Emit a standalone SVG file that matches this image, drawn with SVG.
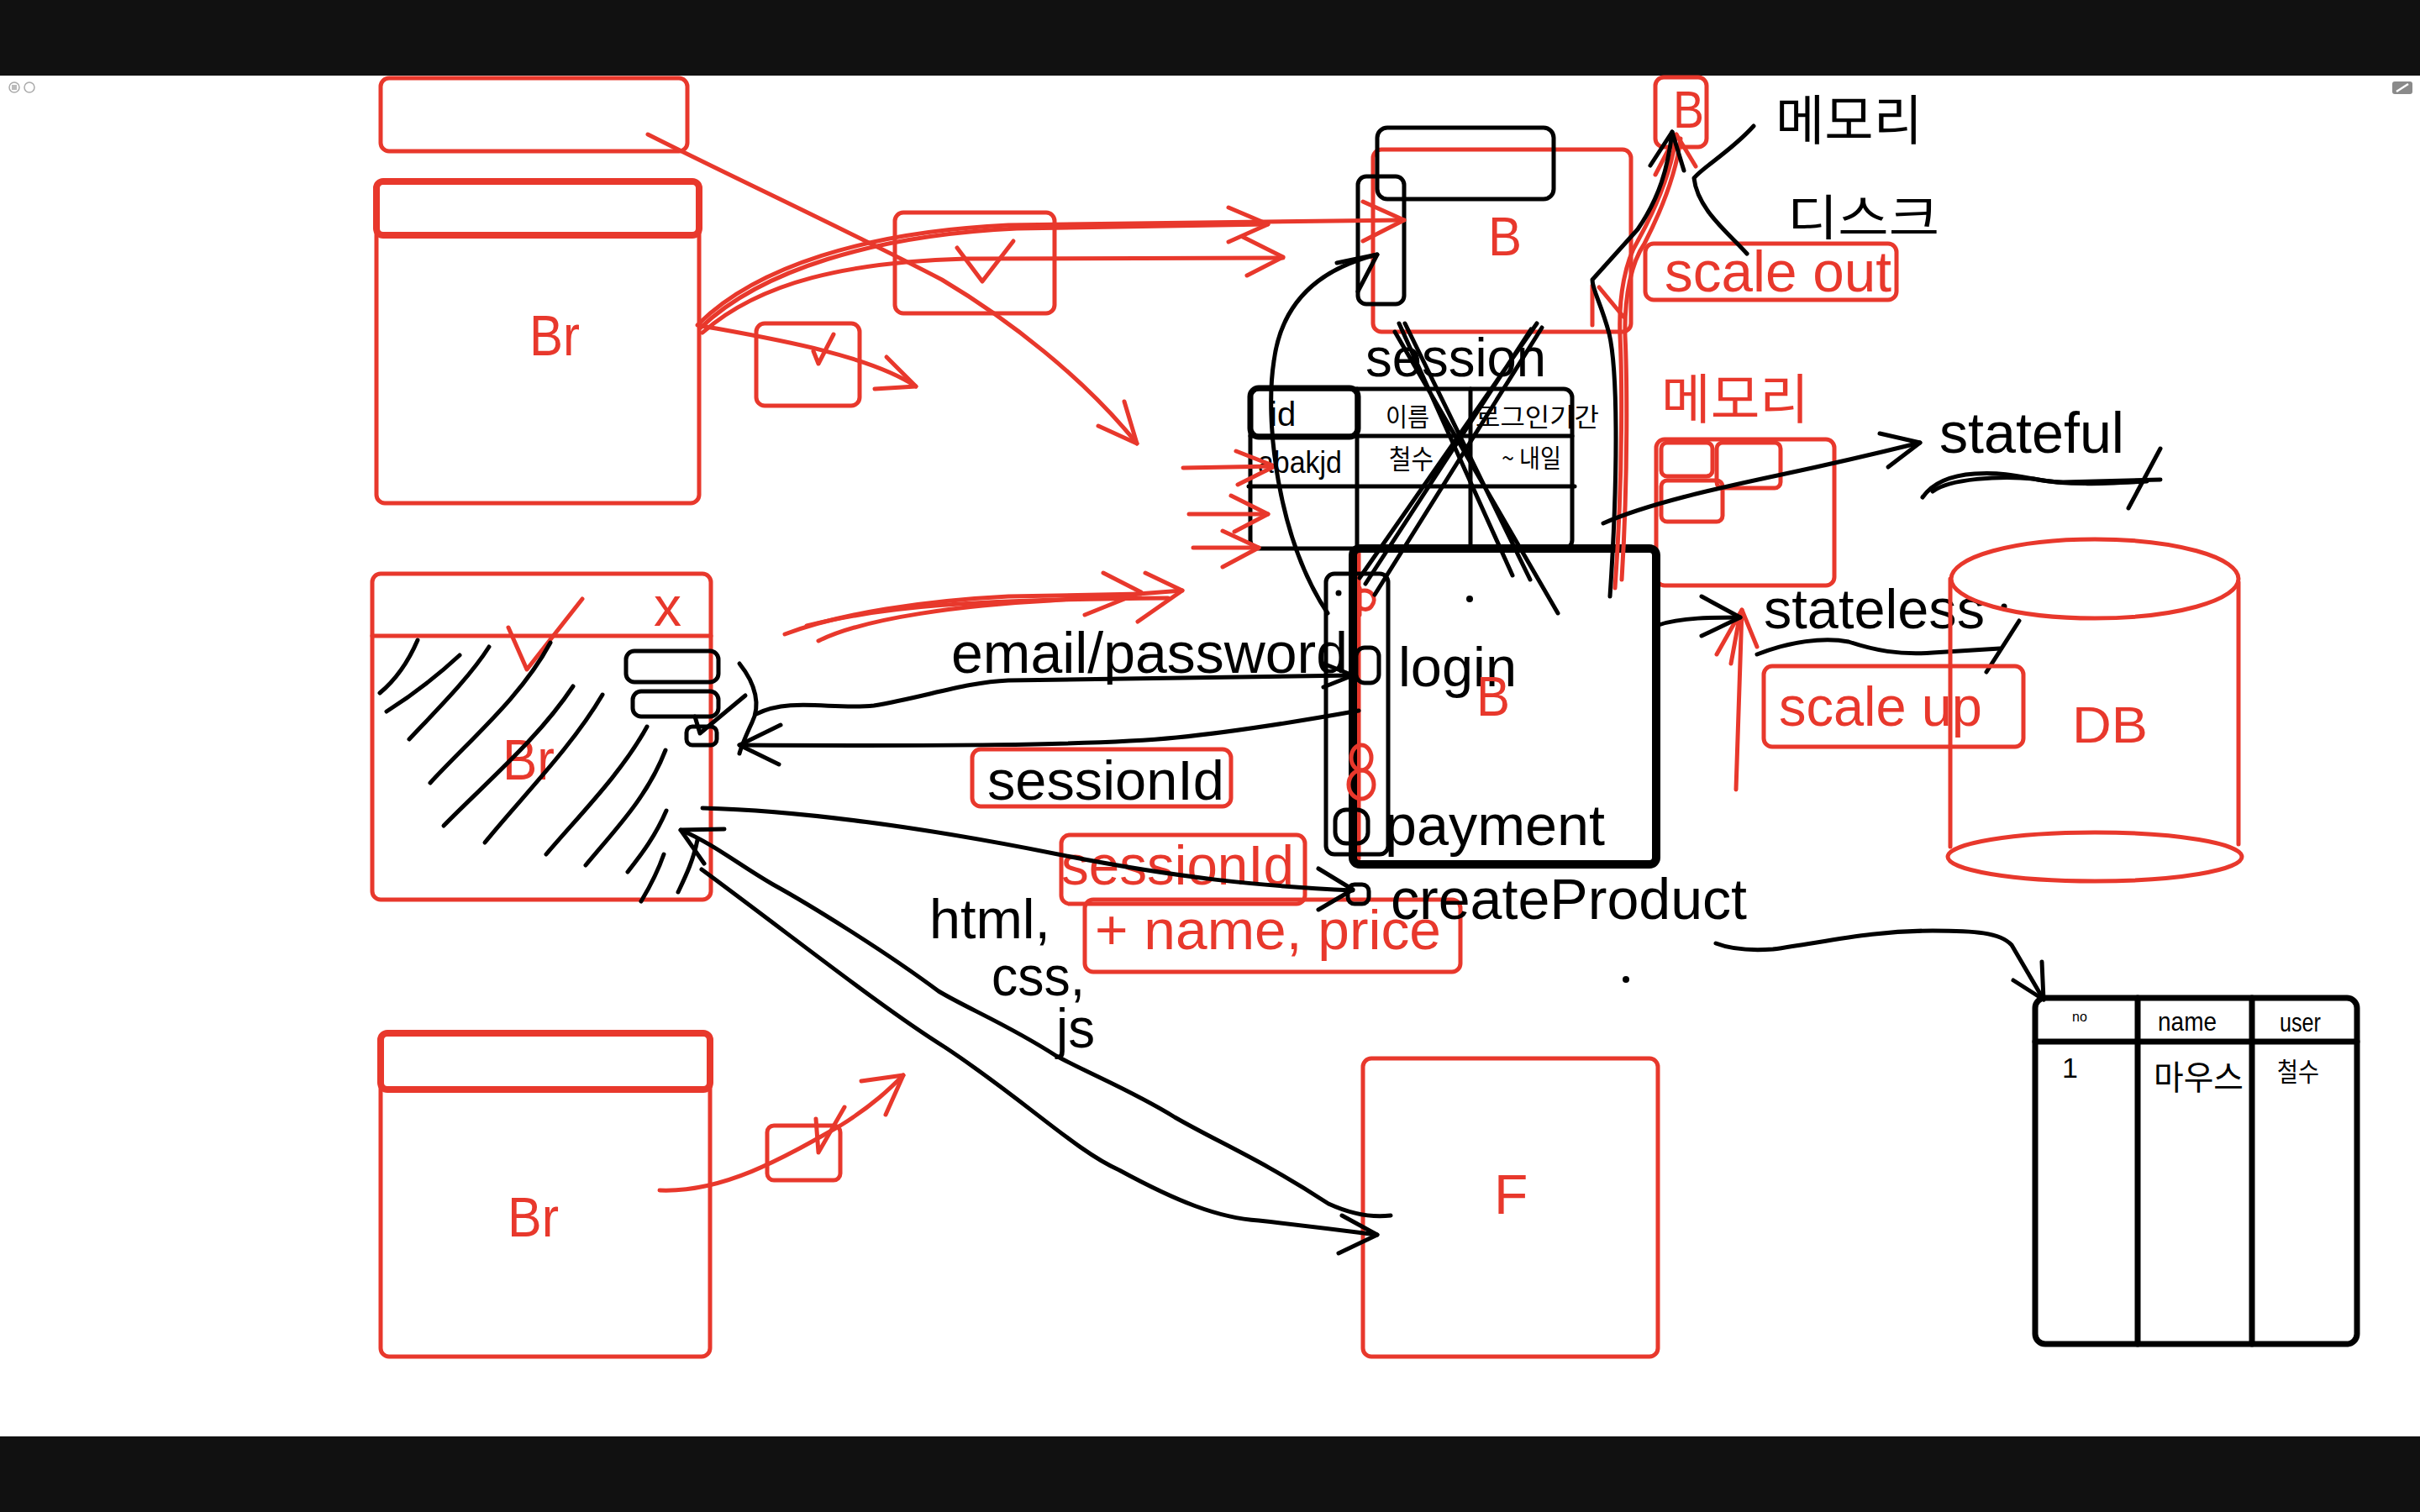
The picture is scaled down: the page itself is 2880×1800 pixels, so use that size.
<svg xmlns="http://www.w3.org/2000/svg" width="2880" height="1800" viewBox="0 0 2880 1800">
<style>
.r{fill:none;stroke:#E8382C;stroke-width:5;stroke-linecap:round;stroke-linejoin:round}
.rt{fill:none;stroke:#E8382C;stroke-width:8;stroke-linecap:round;stroke-linejoin:round}
.k{fill:none;stroke:#000;stroke-width:5;stroke-linecap:round;stroke-linejoin:round}
.kt{fill:none;stroke:#000;stroke-width:7;stroke-linecap:round;stroke-linejoin:round}
.kb{fill:none;stroke:#000;stroke-width:10;stroke-linecap:round;stroke-linejoin:round}
.t{font-family:"Liberation Sans",Arial,sans-serif;fill:#000}
.tr{font-family:"Liberation Sans",Arial,sans-serif;fill:#E8382C}
.ko{font-family:"Noto Sans CJK KR","Liberation Sans",sans-serif;fill:#000}
.kor{font-family:"Noto Sans CJK KR","Liberation Sans",sans-serif;fill:#E8382C}
</style>
<rect x="0" y="0" width="2880" height="1800" fill="#fff"/>
<rect x="0" y="0" width="2880" height="90" fill="#111"/>
<rect x="0" y="1710" width="2880" height="90" fill="#111"/>
<g id="toolbar">
<circle cx="17" cy="104" r="6" fill="none" stroke="#aaa" stroke-width="1.5"/>
<rect x="14" y="101" width="6" height="6" fill="#bbb"/>
<circle cx="35" cy="104" r="6" fill="none" stroke="#aaa" stroke-width="1.5"/>
<rect x="2847" y="97" width="24" height="15" rx="3" fill="#8a8a8a"/>
<path d="M2852,109 L2866,100" stroke="#fff" stroke-width="2.5" fill="none"/>
</g>

<g id="top-rect"><rect class="r" x="453" y="93" width="365" height="87" rx="10"/></g>

<g id="br1">
<rect class="r" x="448" y="216" width="384" height="383" rx="10"/>
<rect class="rt" x="448" y="216" width="384" height="64" rx="8"/>
<text class="tr" x="630" y="423" font-size="68" textLength="60" lengthAdjust="spacingAndGlyphs">Br</text>
</g>

<g id="check-box-1">
<rect class="r" x="1065" y="253" width="190" height="120" rx="10"/>
<path class="r" d="M1139,295 L1169,335 L1206,287"/>
</g>
<g id="check-box-2">
<rect class="r" x="900" y="385" width="123" height="98" rx="10"/>
<path class="r" d="M968,418 L974,433 L992,398"/>
</g>

<g id="br2">
<rect class="r" x="443" y="683" width="403" height="388" rx="10"/>
<path class="r" d="M443,757 L846,757"/>
<text class="tr" x="778" y="745" font-size="66">x</text>
<path class="r" d="M605,747 L627,797 L693,713"/>
<text class="tr" x="598" y="928" font-size="68" textLength="62" lengthAdjust="spacingAndGlyphs">Br</text>
<g class="k">
<path d="M497,762 C485,790 470,810 452,825"/>
<path d="M547,780 C520,805 490,828 460,847"/>
<path d="M582,770 C560,805 520,845 487,880"/>
<path d="M655,765 C620,830 560,880 512,932"/>
<path d="M682,817 C640,880 580,930 528,983"/>
<path d="M717,827 C680,890 620,950 577,1003"/>
<path d="M770,865 C740,920 690,970 650,1017"/>
<path d="M792,893 C770,950 730,990 697,1030"/>
<path d="M793,965 C780,995 765,1015 747,1038"/>
<path d="M790,1017 C782,1040 772,1058 763,1073"/>
<path d="M830,1000 C825,1025 815,1045 807,1062"/>
<rect x="745" y="775" width="110" height="37" rx="10"/>
<rect x="753" y="823" width="102" height="30" rx="10"/>
<rect x="817" y="865" width="36" height="22" rx="7"/>
<path d="M827,853 L833,873 L887,828"/>
</g>
</g>

<g id="br3">
<rect class="r" x="453" y="1230" width="392" height="385" rx="10"/>
<rect class="rt" x="453" y="1230" width="392" height="67" rx="8"/>
<text class="tr" x="604" y="1472" font-size="66" textLength="61" lengthAdjust="spacingAndGlyphs">Br</text>
</g>
<g id="check-box-3">
<rect class="r" x="913" y="1340" width="87" height="65" rx="8"/>
<path class="r" d="M971,1332 L974,1372 L1005,1318"/>
</g>

<g id="f-server">
<rect class="r" x="1622" y="1260" width="351" height="355" rx="10"/>
<text class="tr" x="1778" y="1445" font-size="66">F</text>
</g>

<g id="b-server-top">
<rect class="r" x="1634" y="178" width="307" height="217" rx="10"/>
<rect class="k" x="1639" y="152" width="210" height="85" rx="12" stroke-width="6"/>
<rect class="k" x="1616" y="210" width="55" height="152" rx="10"/>
<text class="tr" x="1771" y="304" font-size="64" textLength="40" lengthAdjust="spacingAndGlyphs">B</text>
</g>

<g id="b-small">
<rect class="r" x="1970" y="92" width="61" height="83" rx="10"/>
<text class="tr" x="1991" y="152" font-size="63" textLength="37" lengthAdjust="spacingAndGlyphs">B</text>
</g>

<g id="memory-disk">
<text class="ko" x="2113" y="166" font-size="64" textLength="175" lengthAdjust="spacingAndGlyphs">메모리</text>
<text class="ko" x="2127" y="280" font-size="58" textLength="181" lengthAdjust="spacingAndGlyphs">디스크</text>
</g>

<g id="scale-out">
<rect class="r" x="1958" y="290" width="299" height="67" rx="10"/>
<text class="tr" x="1981" y="347" font-size="68" textLength="270" lengthAdjust="spacingAndGlyphs">scale out</text>
</g>

<g id="session-table">
<text class="t" x="1625" y="448" font-size="64" textLength="215" lengthAdjust="spacingAndGlyphs">session</text>
<rect class="k" x="1488" y="463" width="383" height="190" rx="10" stroke-width="6"/>
<rect class="kt" x="1488" y="462" width="128" height="58" rx="10" stroke-width="9"/>
<path class="k" d="M1488,519 L1871,519" stroke-width="6"/>
<path class="k" d="M1486,579 L1874,579" stroke-width="6"/>
<path class="k" d="M1615,463 L1615,653" stroke-width="7"/>
<path class="k" d="M1750,463 L1750,653" stroke-width="6"/>
<text class="t" x="1511" y="507" font-size="40">id</text>
<text class="ko" x="1649" y="507" font-size="30" textLength="52" lengthAdjust="spacingAndGlyphs">이름</text>
<text class="ko" x="1756" y="507" font-size="30" textLength="147" lengthAdjust="spacingAndGlyphs">로그인기간</text>
<text class="t" x="1497" y="563" font-size="36" textLength="100" lengthAdjust="spacingAndGlyphs">abakjd</text>
<text class="ko" x="1653" y="558" font-size="32" textLength="53" lengthAdjust="spacingAndGlyphs">철수</text>
<text class="ko" x="1787" y="556" font-size="30" textLength="71" lengthAdjust="spacingAndGlyphs">~ 내일</text>
</g>

<g id="memory-box">
<text class="kor" x="1977" y="498" font-size="64" textLength="176" lengthAdjust="spacingAndGlyphs">메모리</text>
<rect class="r" x="1971" y="523" width="212" height="174" rx="10"/>
<rect class="r" x="1977" y="527" width="61" height="40" rx="7"/>
<rect class="r" x="2043" y="527" width="76" height="54" rx="7"/>
<rect class="r" x="1977" y="572" width="73" height="49" rx="7"/>
</g>

<g id="b-server">
<path class="r" d="M1617,657 L1617,1022"/>
<rect class="kb" x="1610" y="653" width="361" height="376" rx="8"/>
<rect class="k" x="1578" y="683" width="74" height="334" rx="10"/>
<rect class="k" x="1614" y="771" width="27" height="42" rx="10"/>
<rect class="k" x="1589" y="964" width="39" height="40" rx="13"/>
<path class="r" d="M1618,700 L1618,732 M1618,704 C1632,700 1640,712 1632,722 C1628,727 1620,726 1618,722"/>
<ellipse class="r" cx="1620" cy="902" rx="12" ry="15"/>
<ellipse class="r" cx="1620" cy="934" rx="15" ry="17"/>
<text class="t" x="1664" y="817" font-size="67" textLength="141" lengthAdjust="spacingAndGlyphs">login</text>
<text class="tr" x="1757" y="852" font-size="66" textLength="40" lengthAdjust="spacingAndGlyphs">B</text>
<text class="t" x="1648" y="1006" font-size="68" textLength="262" lengthAdjust="spacingAndGlyphs">payment</text>
<circle cx="1749" cy="713" r="4" fill="#000"/>
<circle cx="1593" cy="706" r="3.5" fill="#000"/>
</g>

<g id="stateful-stateless">
<text class="t" x="2308" y="539" font-size="68" textLength="220" lengthAdjust="spacingAndGlyphs">stateful</text>
<text class="t" x="2099" y="748" font-size="66" textLength="263" lengthAdjust="spacingAndGlyphs">stateless</text>
<circle cx="2385" cy="722" r="3.5" fill="#000"/>
<path class="k" d="M2288,592 C2300,575 2320,566 2350,564 C2400,561 2420,574 2455,574 L2571,571"/>
<path class="k" d="M2300,585 C2320,570 2380,566 2420,570 C2460,578 2500,576 2555,573"/>
<path class="k" d="M2571,534 L2533,605"/>
<path class="k" d="M2091,779 C2130,764 2170,758 2200,764 C2230,774 2260,780 2300,777 L2380,772"/>
<path class="k" d="M2403,739 L2364,800"/>
</g>

<g id="scale-up">
<rect class="r" x="2099" y="793" width="309" height="96" rx="10"/>
<text class="tr" x="2117" y="864" font-size="66" textLength="242" lengthAdjust="spacingAndGlyphs">scale up</text>
</g>

<g id="db">
<ellipse class="r" cx="2493" cy="689" rx="171" ry="47"/>
<path class="r" d="M2321,689 L2321,1008 M2664,693 L2664,1005"/>
<ellipse class="r" cx="2493" cy="1020" rx="175" ry="29"/>
<text class="tr" x="2466" y="884" font-size="62" textLength="90" lengthAdjust="spacingAndGlyphs">DB</text>
</g>

<g id="labels">
<text class="t" x="1132" y="801" font-size="68" textLength="472" lengthAdjust="spacingAndGlyphs">email/password</text>
<rect class="r" x="1157" y="892" width="308" height="68" rx="10"/>
<text class="t" x="1175" y="952" font-size="67" textLength="282" lengthAdjust="spacingAndGlyphs">sessionId</text>
<rect class="r" x="1263" y="994" width="290" height="82" rx="10"/>
<text class="tr" x="1263" y="1053" font-size="66" textLength="277" lengthAdjust="spacingAndGlyphs">sessionId</text>
<rect class="r" x="1291" y="1071" width="447" height="86" rx="10"/>
<text class="tr" x="1303" y="1130" font-size="66" textLength="412" lengthAdjust="spacingAndGlyphs">+ name, price</text>
<text class="t" x="1655" y="1094" font-size="68" textLength="424" lengthAdjust="spacingAndGlyphs">createProduct</text>
<rect class="k" x="1604" y="1053" width="25" height="23" rx="8" stroke-width="4"/>
<circle cx="1935" cy="1166" r="4" fill="#000"/>
<text class="t" x="1106" y="1117" font-size="67" textLength="144" lengthAdjust="spacingAndGlyphs">html,</text>
<text class="t" x="1180" y="1185" font-size="66" textLength="111" lengthAdjust="spacingAndGlyphs">css,</text>
<text class="t" x="1257" y="1247" font-size="66" textLength="46" lengthAdjust="spacingAndGlyphs">js</text>
</g>

<g id="product-table">
<rect class="kt" x="2422" y="1188" width="383" height="412" rx="12"/>
<path class="kt" d="M2422,1240 L2805,1240"/>
<path class="kt" d="M2544,1188 L2544,1600 M2680,1188 L2680,1600"/>
<text class="t" x="2466" y="1216" font-size="16">no</text>
<text class="t" x="2568" y="1227" font-size="32" textLength="70" lengthAdjust="spacingAndGlyphs">name</text>
<text class="t" x="2713" y="1228" font-size="32" textLength="49" lengthAdjust="spacingAndGlyphs">user</text>
<text class="t" x="2454" y="1283" font-size="34">1</text>
<text class="ko" x="2563" y="1297" font-size="40" textLength="107" lengthAdjust="spacingAndGlyphs">마우스</text>
<text class="ko" x="2710" y="1287" font-size="31" textLength="50" lengthAdjust="spacingAndGlyphs">철수</text>
</g>

<g id="connectors">
<g class="r">
<path d="M832,385 C900,318 1030,276 1200,268 L1671,262"/>
<path d="M1622,240 L1671,262 L1622,287"/>
<path d="M834,390 C905,322 1040,280 1210,272 L1509,267"/>
<path d="M1462,247 L1509,267 L1462,288"/>
<path d="M836,396 C905,335 1010,312 1150,308 L1527,307"/>
<path d="M1479,282 L1527,306 L1484,328"/>
<path d="M830,387 C900,400 1030,420 1090,460"/>
<path d="M1055,425 L1090,460 L1041,463"/>
<path d="M771,160 C880,215 1000,270 1121,333 C1200,380 1290,450 1353,528"/>
<path d="M1338,478 L1353,528 L1307,507"/>
<path d="M1408,557 L1517,555"/>
<path d="M1471,537 L1517,555 L1473,577"/>
<path d="M1415,612 L1509,612"/>
<path d="M1465,590 L1509,612 L1469,633"/>
<path d="M1420,652 L1498,652"/>
<path d="M1455,632 L1498,652 L1455,675"/>
<path d="M934,755 C1000,730 1100,715 1200,710 L1358,707"/>
<path d="M1313,682 L1358,705 L1291,732"/>
<path d="M974,763 C1030,735 1150,720 1250,715 L1407,703"/>
<path d="M1363,682 L1407,703 L1354,740"/>
<path d="M960,745 C1050,722 1150,714 1390,712"/>
<path d="M2066,940 L2073,726"/>
<path d="M2060,790 L2071,730"/>
<path d="M2043,779 L2073,726 L2091,770"/>
<path d="M1922,700 C1932,560 1930,440 1928,400 C1926,350 1935,310 1949,287 C1975,240 1990,200 1995,160"/>
<path d="M1930,690 C1938,560 1936,440 1934,400 C1933,350 1942,312 1957,290 C1980,245 1995,205 2000,165"/>
<path d="M1970,208 L1995,160 L2018,198"/>
<path d="M1895,340 L1895,387 M1903,342 L1932,377"/>
<path d="M785,1417 C860,1420 930,1380 1000,1340 C1040,1315 1060,1295 1075,1280"/>
<path d="M1025,1287 L1075,1280 L1054,1327"/>
</g>
<g class="k">
<path d="M1580,730 C1520,640 1505,500 1516,430 C1525,360 1570,320 1639,303"/>
<path d="M1591,313 L1639,303 L1616,347"/>
<path d="M1916,710 C1926,560 1925,440 1915,397 C1905,360 1895,345 1895,333 L1949,273 C1975,235 1985,200 1990,157"/>
<path d="M1964,197 L1990,157 L2004,203"/>
<path d="M2087,150 C2060,180 2025,200 2016,212 C2020,250 2060,280 2079,302"/>
<path d="M1665,385 L1800,685 M1672,385 L1821,690 M1660,395 L1854,730"/>
<path d="M1829,385 L1618,688 M1835,390 L1636,708 M1822,392 L1625,695"/>
<path d="M1908,623 C1960,600 2040,582 2120,565 C2200,548 2285,527 2285,527"/>
<path d="M2237,516 L2285,527 L2247,556"/>
<path d="M1974,744 C2000,735 2040,735 2071,735"/>
<path d="M2025,710 L2071,735 L2025,757"/>
<path d="M900,850 C940,830 990,845 1040,840 C1100,830 1150,812 1200,810 L1610,804"/>
<path d="M1575,790 L1610,804 L1575,818"/>
<path d="M1617,846 C1550,858 1480,870 1400,878 C1300,888 1100,888 880,887"/>
<path d="M929,863 L880,887 L927,910"/>
<path d="M880,790 C900,815 905,840 895,860 C888,875 882,890 880,897"/>
<path d="M836,962 C950,965 1100,985 1259,1017 C1400,1045 1500,1055 1610,1060"/>
<path d="M1569,1034 L1610,1059 L1569,1083"/>
<path d="M835,1035 C950,1120 1050,1200 1125,1247 C1220,1310 1280,1370 1332,1393 C1400,1430 1450,1450 1498,1453 C1560,1460 1600,1465 1639,1470"/>
<path d="M1597,1447 L1639,1470 L1593,1492"/>
<path d="M1655,1447 C1630,1450 1605,1444 1581,1433 C1500,1380 1450,1360 1398,1330 C1350,1300 1300,1280 1257,1257 C1200,1220 1150,1200 1117,1180 C1050,1130 960,1075 920,1053 C880,1030 850,1005 810,988"/>
<path d="M862,987 L810,988 L838,1028"/>
<path d="M2042,1123 C2060,1130 2080,1132 2110,1130 C2180,1120 2230,1108 2300,1108 C2350,1108 2380,1110 2394,1125 L2432,1190"/>
<path d="M2430,1145 L2432,1190 L2396,1167"/>
</g>
</g>
</svg>
